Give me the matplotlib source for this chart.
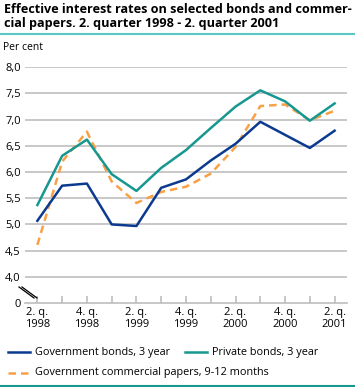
import matplotlib
matplotlib.use('Agg')
import matplotlib.pyplot as plt
from matplotlib.lines import Line2D

plt.rcParams['font.family'] = ['Open Sans', 'DejaVu Sans']

# data, 2. quarter 1998 - 2. quarter 2001
quarters = list(range(13))
tick_labels = ['2. q.\n1998', '4. q.\n1998', '2. q.\n1999', '4. q.\n1999',
               '2. q.\n2000', '4. q.\n2000', '2. q.\n2001']
gov_bonds = [5.07, 5.74, 5.78, 5.00, 4.97, 5.70, 5.86, 6.22, 6.54, 6.96, 6.71, 6.46, 6.79]
priv_bonds = [5.37, 6.31, 6.62, 5.96, 5.64, 6.08, 6.42, 6.84, 7.25, 7.56, 7.35, 6.98, 7.31]
comm_papers = [4.61, 6.20, 6.77, 5.82, 5.41, 5.62, 5.72, 5.97, 6.48, 7.26, 7.29, 6.99, 7.17]
y_ticks = [4.0, 4.5, 5.0, 5.5, 6.0, 6.5, 7.0, 7.5, 8.0]

BLUE = '#0b3a8f'
TEAL = '#16978f'
ORANGE = '#f8a046'
W, H = 355, 387

fig = plt.figure(figsize=(W / 100, H / 100), dpi=100)
ax = fig.add_axes([25 / W, (H - 303) / H, 322 / W, (303 - 67.3) / H])

for v in y_ticks:
    ax.axhline(v, color='#c8c8c8', linewidth=1.4, zorder=1)

ax.plot(quarters, gov_bonds, color=BLUE, linewidth=1.8, zorder=3)
ax.plot(quarters, priv_bonds, color=TEAL, linewidth=1.8, zorder=3)
ax.plot(quarters, comm_papers, color=ORANGE, linewidth=1.8, linestyle=(0, (3, 2)), zorder=2)

ax.set_xlim(-0.5, 12.5)
ax.set_ylim(3.5, 8.0)
for s in ['top', 'right', 'left']:
    ax.spines[s].set_visible(False)
ax.spines['bottom'].set_color('#bdbdbd')
ax.spines['bottom'].set_linewidth(1.2)

ax.set_yticks([3.5] + y_ticks)
ax.set_yticklabels(['0'] + [f'{v:.1f}'.replace('.', ',') for v in y_ticks], fontsize=8)
ax.tick_params(axis='y', length=0, pad=3)

ax.set_xticks(quarters, minor=True)
ax.set_xticks(quarters[::2])
ax.set_xticklabels(tick_labels, fontsize=8, linespacing=1.1)
ax.tick_params(axis='x', which='both', direction='in', length=5, color='#bdbdbd', width=1.2, pad=3)

# axis break mark
for dx in (0, 3):
    fig.add_artist(Line2D([(19 + dx) / W, (34 + dx) / W], [1 - 287 / H, 1 - 298 / H],
                          color='black', linewidth=0.9))

fig.text(4 / W, 1 - 3 / H,
         'Effective interest rates on selected bonds and commer-\ncial papers. 2. quarter 1998 - 2. quarter 2001',
         fontsize=9.1, fontweight='bold', va='top', ha='left', linespacing=1.1)
fig.add_artist(Line2D([0, 1], [1 - 34 / H, 1 - 34 / H], color='#5cc5c5', linewidth=1.5))
fig.text(3 / W, 1 - 47 / H, 'Per cent', fontsize=7.5, va='center', ha='left')

# legend
def legend_item(x, y, color, style, label):
    fig.add_artist(Line2D([x / W, (x + 22) / W], [1 - y / H, 1 - y / H],
                          color=color, linewidth=1.8, linestyle=style))
    fig.text((x + 27) / W, 1 - y / H, label, fontsize=7.8, va='center', ha='left')

legend_item(8, 352, BLUE, '-', 'Government bonds, 3 year')
legend_item(185, 352, TEAL, '-', 'Private bonds, 3 year')
legend_item(8, 373, ORANGE, (0, (3, 2)), 'Government commercial papers, 9-12 months')
fig.add_artist(Line2D([0, 1], [1 - 386 / H, 1 - 386 / H], color=TEAL, linewidth=1.5))

plt.savefig('out.png', dpi=100)
plt.close()
